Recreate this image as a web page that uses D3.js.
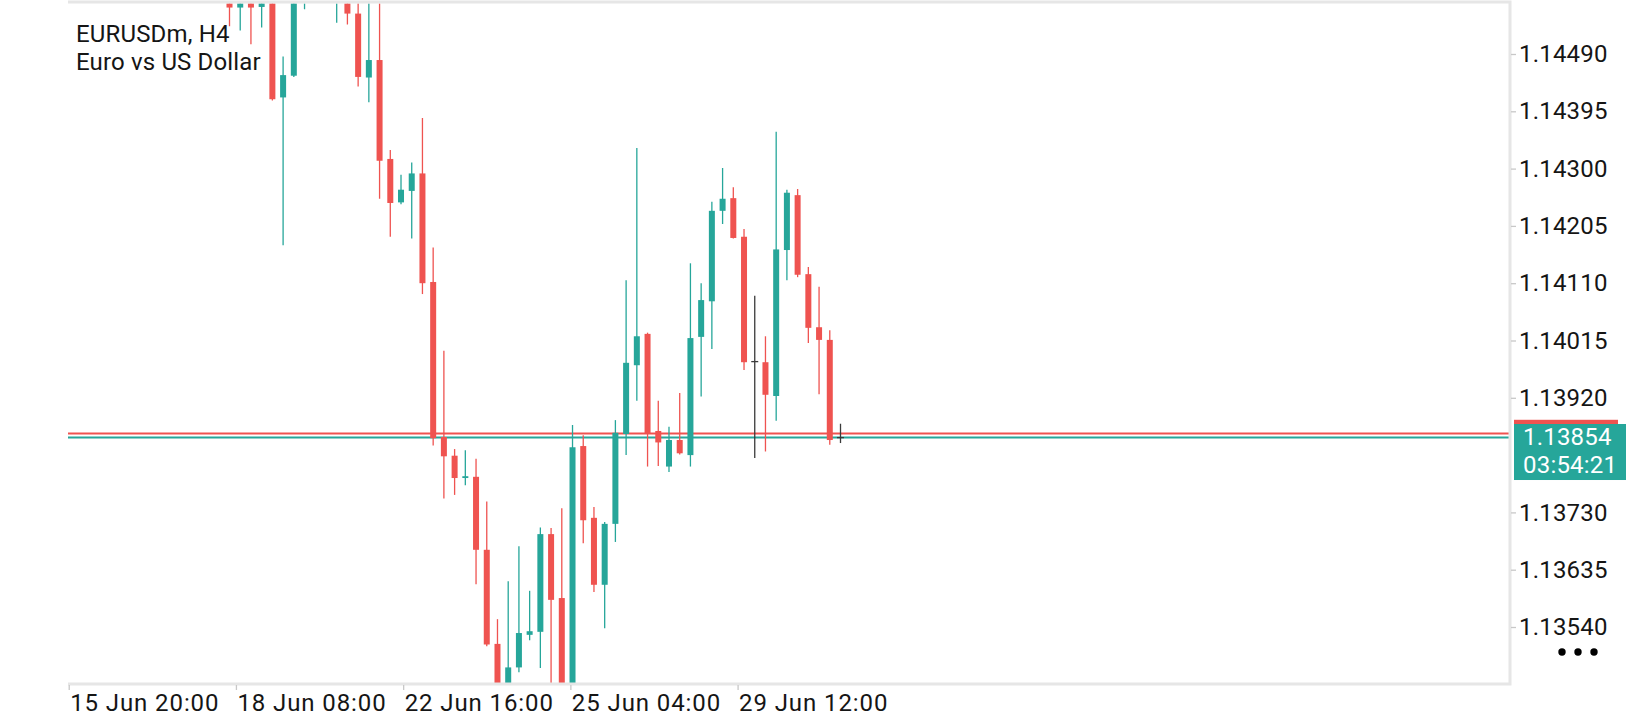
<!DOCTYPE html>
<html>
<head>
<meta charset="utf-8">
<script src="https://cdn.jsdelivr.net/npm/d3@7/dist/d3.min.js"></script>
<style>
  html, body { margin: 0; padding: 0; background: #fff; }
  svg { display: block; font-family: Roboto, "Noto Sans", sans-serif; }
</style>
</head>
<body>
<svg id="chart" width="1640" height="720"></svg>
<script>
const symbolTitle = "EURUSDm, H4";
const symbolName = "Euro vs US Dollar";

// H4 bars, oldest first (the first ones run above the visible price range)
const opens = [
  1.14604, 1.14567, 1.14599, 1.14568, 1.14603, 1.14418, 1.14454, 1.14646, 1.14680, 1.14640,
  1.14600, 1.14629, 1.14557, 1.14451, 1.14480, 1.14316, 1.14244, 1.14263, 1.14292, 1.14112,
  1.13855, 1.13824, 1.13787, 1.13789, 1.13668, 1.13512, 1.13424, 1.13473, 1.13527, 1.13532,
  1.13694, 1.13588, 1.13435, 1.13840, 1.13721, 1.13610, 1.13711, 1.13860, 1.13974, 1.14026,
  1.13865, 1.13806, 1.13850, 1.13825, 1.14021, 1.14080, 1.14230, 1.14251, 1.14187, 1.13980,
  1.13979, 1.13923, 1.14165, 1.14256, 1.14125, 1.14037, 1.14016, 1.13854
];
const highs = [
  1.14621, 1.14609, 1.14613, 1.14616, 1.14606, 1.14486, 1.14654, 1.14700, 1.14705, 1.14690,
  1.14665, 1.14646, 1.14588, 1.14593, 1.14585, 1.14331, 1.14290, 1.14310, 1.14384, 1.14169,
  1.13998, 1.13835, 1.13833, 1.13819, 1.13748, 1.13553, 1.13616, 1.13674, 1.13600, 1.13705,
  1.13704, 1.13737, 1.13875, 1.13858, 1.13739, 1.13714, 1.13883, 1.14115, 1.14334, 1.14028,
  1.13915, 1.13872, 1.13928, 1.14143, 1.14110, 1.14245, 1.14301, 1.14269, 1.14200, 1.14089,
  1.14022, 1.14361, 1.14265, 1.14266, 1.14137, 1.14104, 1.14032, 1.13877
];
const lows = [
  1.14536, 1.14529, 1.14506, 1.14534, 1.14413, 1.14173, 1.14452, 1.14564, 1.14600, 1.14590,
  1.14542, 1.14539, 1.14436, 1.14410, 1.14250, 1.14187, 1.14241, 1.14184, 1.14092, 1.13841,
  1.13753, 1.13759, 1.13775, 1.13611, 1.13508, 1.13411, 1.13416, 1.13465, 1.13518, 1.13472,
  1.13427, 1.13422, 1.13429, 1.13679, 1.13598, 1.13538, 1.13681, 1.13825, 1.13915, 1.13806,
  1.13807, 1.13797, 1.13826, 1.13806, 1.13922, 1.14001, 1.14208, 1.14184, 1.13966, 1.13820,
  1.13831, 1.13882, 1.14115, 1.14120, 1.14011, 1.13926, 1.13842, 1.13845
];
const closes = [
  1.14567, 1.14596, 1.14567, 1.14603, 1.14415, 1.14455, 1.14646, 1.14680, 1.14640, 1.14660,
  1.14640, 1.14557, 1.14452, 1.14480, 1.14313, 1.14243, 1.14265, 1.14292, 1.14110, 1.13853,
  1.13823, 1.13787, 1.13790, 1.13668, 1.13511, 1.13419, 1.13473, 1.13530, 1.13533, 1.13694,
  1.13585, 1.13436, 1.13838, 1.13717, 1.13610, 1.13711, 1.13862, 1.13978, 1.14022, 1.13860,
  1.13846, 1.13850, 1.13828, 1.14019, 1.14082, 1.14230, 1.14250, 1.14185, 1.13979, 1.13980,
  1.13925, 1.14166, 1.14260, 1.14124, 1.14036, 1.14016, 1.13850, 1.13854
];

// 1.13825 sits under the current price tag, so it is not listed
const priceTicks = [
  1.14490, 1.14395, 1.14300, 1.14205, 1.14110, 1.14015, 1.13920, 1.13730, 1.13635, 1.13540
];
const timeLabels = ["15 Jun 20:00", "18 Jun 08:00", "22 Jun 16:00", "25 Jun 04:00", "29 Jun 12:00"];
// label positions in bar units, counted from the first bar above
const timeLabelBars = [-15.0, 0.6, 16.2, 31.8, 47.4];

const bidPrice = 1.13854;
const askPrice = 1.13861;
const barCountdown = "03:54:21";

const UP = "#26a69a";
const DOWN = "#ef5350";
const FLAT = "#3a3a3a";
const FRAME = "#e6e6e6";
const TEXT = "#151515";

const plot = { left: 68, top: 2, right: 1510, bottom: 684 };

const bars = closes.map((c, i) => ({
  i, o: opens[i], h: highs[i], l: lows[i], c,
}));

const svg = d3.select("#chart");

const x = d3.scaleLinear().domain([0, bars.length - 1]).range([229.5, 840.5]);
const y = d3.scaleLinear().domain([1.1354, 1.1449]).range([627, 54]);

const colorOf = (d) => (d.c > d.o ? UP : d.c < d.o ? DOWN : FLAT);

svg.append("defs")
  .append("clipPath")
  .attr("id", "plot-clip")
  .append("rect")
  .attr("x", plot.left)
  .attr("y", plot.top + 1.5)
  .attr("width", plot.right - plot.left)
  .attr("height", plot.bottom - plot.top - 2.5);

const plotLayer = svg.append("g").attr("clip-path", "url(#plot-clip)");

// ask / bid lines
plotLayer.selectAll(".price-line")
  .data([{ p: askPrice, color: DOWN }, { p: bidPrice, color: UP }])
  .join("line")
  .attr("class", "price-line")
  .attr("x1", plot.left)
  .attr("x2", plot.right)
  .attr("y1", (d) => y(d.p))
  .attr("y2", (d) => y(d.p))
  .attr("stroke", (d) => d.color)
  .attr("stroke-width", 2);

const candle = plotLayer.selectAll(".candle")
  .data(bars)
  .join("g")
  .attr("class", "candle");

candle.append("line")
  .attr("x1", (d) => x(d.i))
  .attr("x2", (d) => x(d.i))
  .attr("y1", (d) => y(d.h))
  .attr("y2", (d) => y(d.l))
  .attr("stroke", colorOf)
  .attr("stroke-width", 1.3);

candle.filter((d) => d.c !== d.o)
  .append("rect")
  .attr("x", (d) => x(d.i) - 3)
  .attr("width", 6)
  .attr("y", (d) => y(Math.max(d.o, d.c)))
  .attr("height", (d) => Math.max(1.3, Math.abs(y(d.o) - y(d.c))))
  .attr("fill", colorOf);

candle.filter((d) => d.c === d.o)
  .append("line")
  .attr("x1", (d) => x(d.i) - 3.5)
  .attr("x2", (d) => x(d.i) + 3.5)
  .attr("y1", (d) => y(d.o))
  .attr("y2", (d) => y(d.o))
  .attr("stroke", FLAT)
  .attr("stroke-width", 1.3);

// frame: top, right, bottom
svg.append("path")
  .attr("d", `M${plot.left},${plot.top}H${plot.right}V${plot.bottom}H${plot.left}`)
  .attr("stroke", FRAME)
  .attr("stroke-width", 3)
  .attr("fill", "none");

// price axis
const yAxis = svg.append("g")
  .attr("transform", `translate(${plot.right + 1},0)`)
  .call(
    d3.axisRight(y)
      .tickValues(priceTicks)
      .tickFormat(d3.format(".5f"))
      .tickSize(5)
      .tickPadding(3)
  );
yAxis.select(".domain").remove();
yAxis.selectAll(".tick line").attr("stroke", "#c8c8c8").attr("stroke-width", 1.3);
yAxis.selectAll(".tick text")
  .attr("fill", TEXT)
  .style("font-size", "24px")
  .style("letter-spacing", "0.2px")
  .style("font-family", "Roboto, sans-serif");

// time axis
const xAxis = svg.append("g")
  .attr("transform", `translate(0,${plot.bottom + 1})`)
  .call(
    d3.axisBottom(x)
      .tickValues(timeLabelBars)
      .tickFormat((d, i) => timeLabels[i])
      .tickSize(5)
      .tickPadding(4)
  );
xAxis.select(".domain").remove();
xAxis.selectAll(".tick line").attr("stroke", "#c8c8c8").attr("stroke-width", 1.3);
xAxis.selectAll(".tick text")
  .attr("fill", TEXT)
  .attr("text-anchor", "start")
  .attr("x", 1)
  .style("font-size", "24px")
  .style("letter-spacing", "0.9px")
  .style("font-family", "Roboto, sans-serif");

// current price tags (ask behind bid)
const tag = svg.append("g");
tag.append("rect")
  .attr("x", plot.right + 4)
  .attr("y", y(askPrice) - 13.6)
  .attr("width", 104)
  .attr("height", 56)
  .attr("fill", DOWN);
tag.append("rect")
  .attr("x", plot.right + 4)
  .attr("y", y(bidPrice) - 13.6)
  .attr("width", 112)
  .attr("height", 56)
  .attr("fill", UP);
tag.selectAll("text")
  .data([d3.format(".5f")(bidPrice), barCountdown])
  .join("text")
  .attr("x", plot.right + 13)
  .attr("y", (d, i) => y(bidPrice) + 7.5 + i * 27.5)
  .attr("fill", "#fff")
  .style("font-size", "24px")
  .style("letter-spacing", "0.2px")
  .text((d) => d);

// symbol caption
svg.append("g")
  .selectAll("text")
  .data([symbolTitle, symbolName])
  .join("text")
  .attr("x", 76)
  .attr("y", (d, i) => 41.5 + i * 28.5)
  .attr("fill", TEXT)
  .style("font-size", "24px")
  .style("letter-spacing", "0.15px")
  .text((d) => d);

// menu dots
svg.append("g")
  .selectAll("circle")
  .data(d3.range(3))
  .join("circle")
  .attr("cx", (d) => 1562 + d * 16)
  .attr("cy", 652)
  .attr("r", 3.7)
  .attr("fill", "#000");
</script>
</body>
</html>
